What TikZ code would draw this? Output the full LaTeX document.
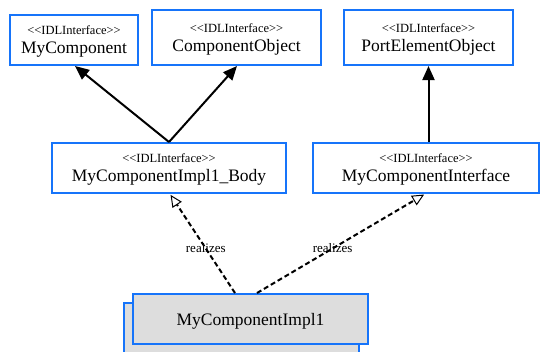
\documentclass[tikz,border=0pt]{standalone}
\usepackage{fontspec}
\setmainfont{Liberation Serif}
\usepackage{tikz}
\usetikzlibrary{
    arrows.meta,
    positioning
}
\definecolor{umlblue}{RGB}{22,116,250}
\definecolor{implgray}{RGB}{221,221,221}
\newcommand{\stereo}{{\fontsize{12.5pt}{19pt}\selectfont <{}<IDLInterface>{}>}}

\begin{document}
\begin{tikzpicture}[x=1pt,y=-1pt,
    iface/.style={draw=umlblue,line width=2pt,fill=white,align=center,
        inner sep=0pt,text depth=0pt,font=\fontsize{17.5pt}{19pt}\selectfont},
    implbox/.style={draw=umlblue,line width=2pt,fill=implgray,inner sep=0pt,
        text depth=0pt,minimum width=235pt,minimum height=50pt,
        font=\fontsize{17.5pt}{19pt}\selectfont},
    inherit/.style={line width=2pt,-{Triangle[length=14pt,width=12pt]}},
    realize/.style={line width=2pt,dash pattern=on 5pt off 3pt,
        -{Triangle[open,length=12pt,width=11pt,line width=1pt,sep=1pt]}},
    tag/.style={font=\fontsize{13pt}{14pt}\selectfont,inner sep=0pt}
]
\useasboundingbox (0,0) rectangle (540,351);

% interfaces, top row
\node[iface,minimum width=128pt,minimum height=50pt] (mycomp) at (74,40)
    {\stereo\\MyComponent};
\node[iface,minimum width=169pt,minimum height=55pt] (compobj) at (236.5,37.5)
    {\stereo\\ComponentObject};
\node[iface,minimum width=169pt,minimum height=55pt] (portelem) at (428.5,37.5)
    {\stereo\\PortElementObject};

% interfaces, middle row
\node[iface,minimum width=234pt,minimum height=50pt] (body) at (169,168)
    {\stereo\\MyComponentImpl1\_Body};
\node[iface,minimum width=226pt,minimum height=50pt] (myiface) at (426,168)
    {\stereo\\MyComponentInterface};

% implementation (stacked)
\node[implbox] (implback) at (241.5,328) {};
\node[implbox] (impl) at (250.5,319) {MyComponentImpl1};

% generalisation
\draw[inherit] (body.north) -- ([xshift=1pt]mycomp.south);
\draw[inherit] (body.north) -- ([xshift=0.5pt]compobj.south);
\draw[inherit] (portelem.south |- myiface.north) -- (portelem.south);

% realization
\draw[realize] ([xshift=-15.5pt]impl.north) -- node[tag,pos=.45] (realA) {realizes}
    ([xshift=1pt]body.south);
\draw[realize] ([xshift=6.5pt]impl.north) -- node[tag,pos=.45] (realB) {realizes}
    ([xshift=-1pt]myiface.south);
\end{tikzpicture}
\end{document}
